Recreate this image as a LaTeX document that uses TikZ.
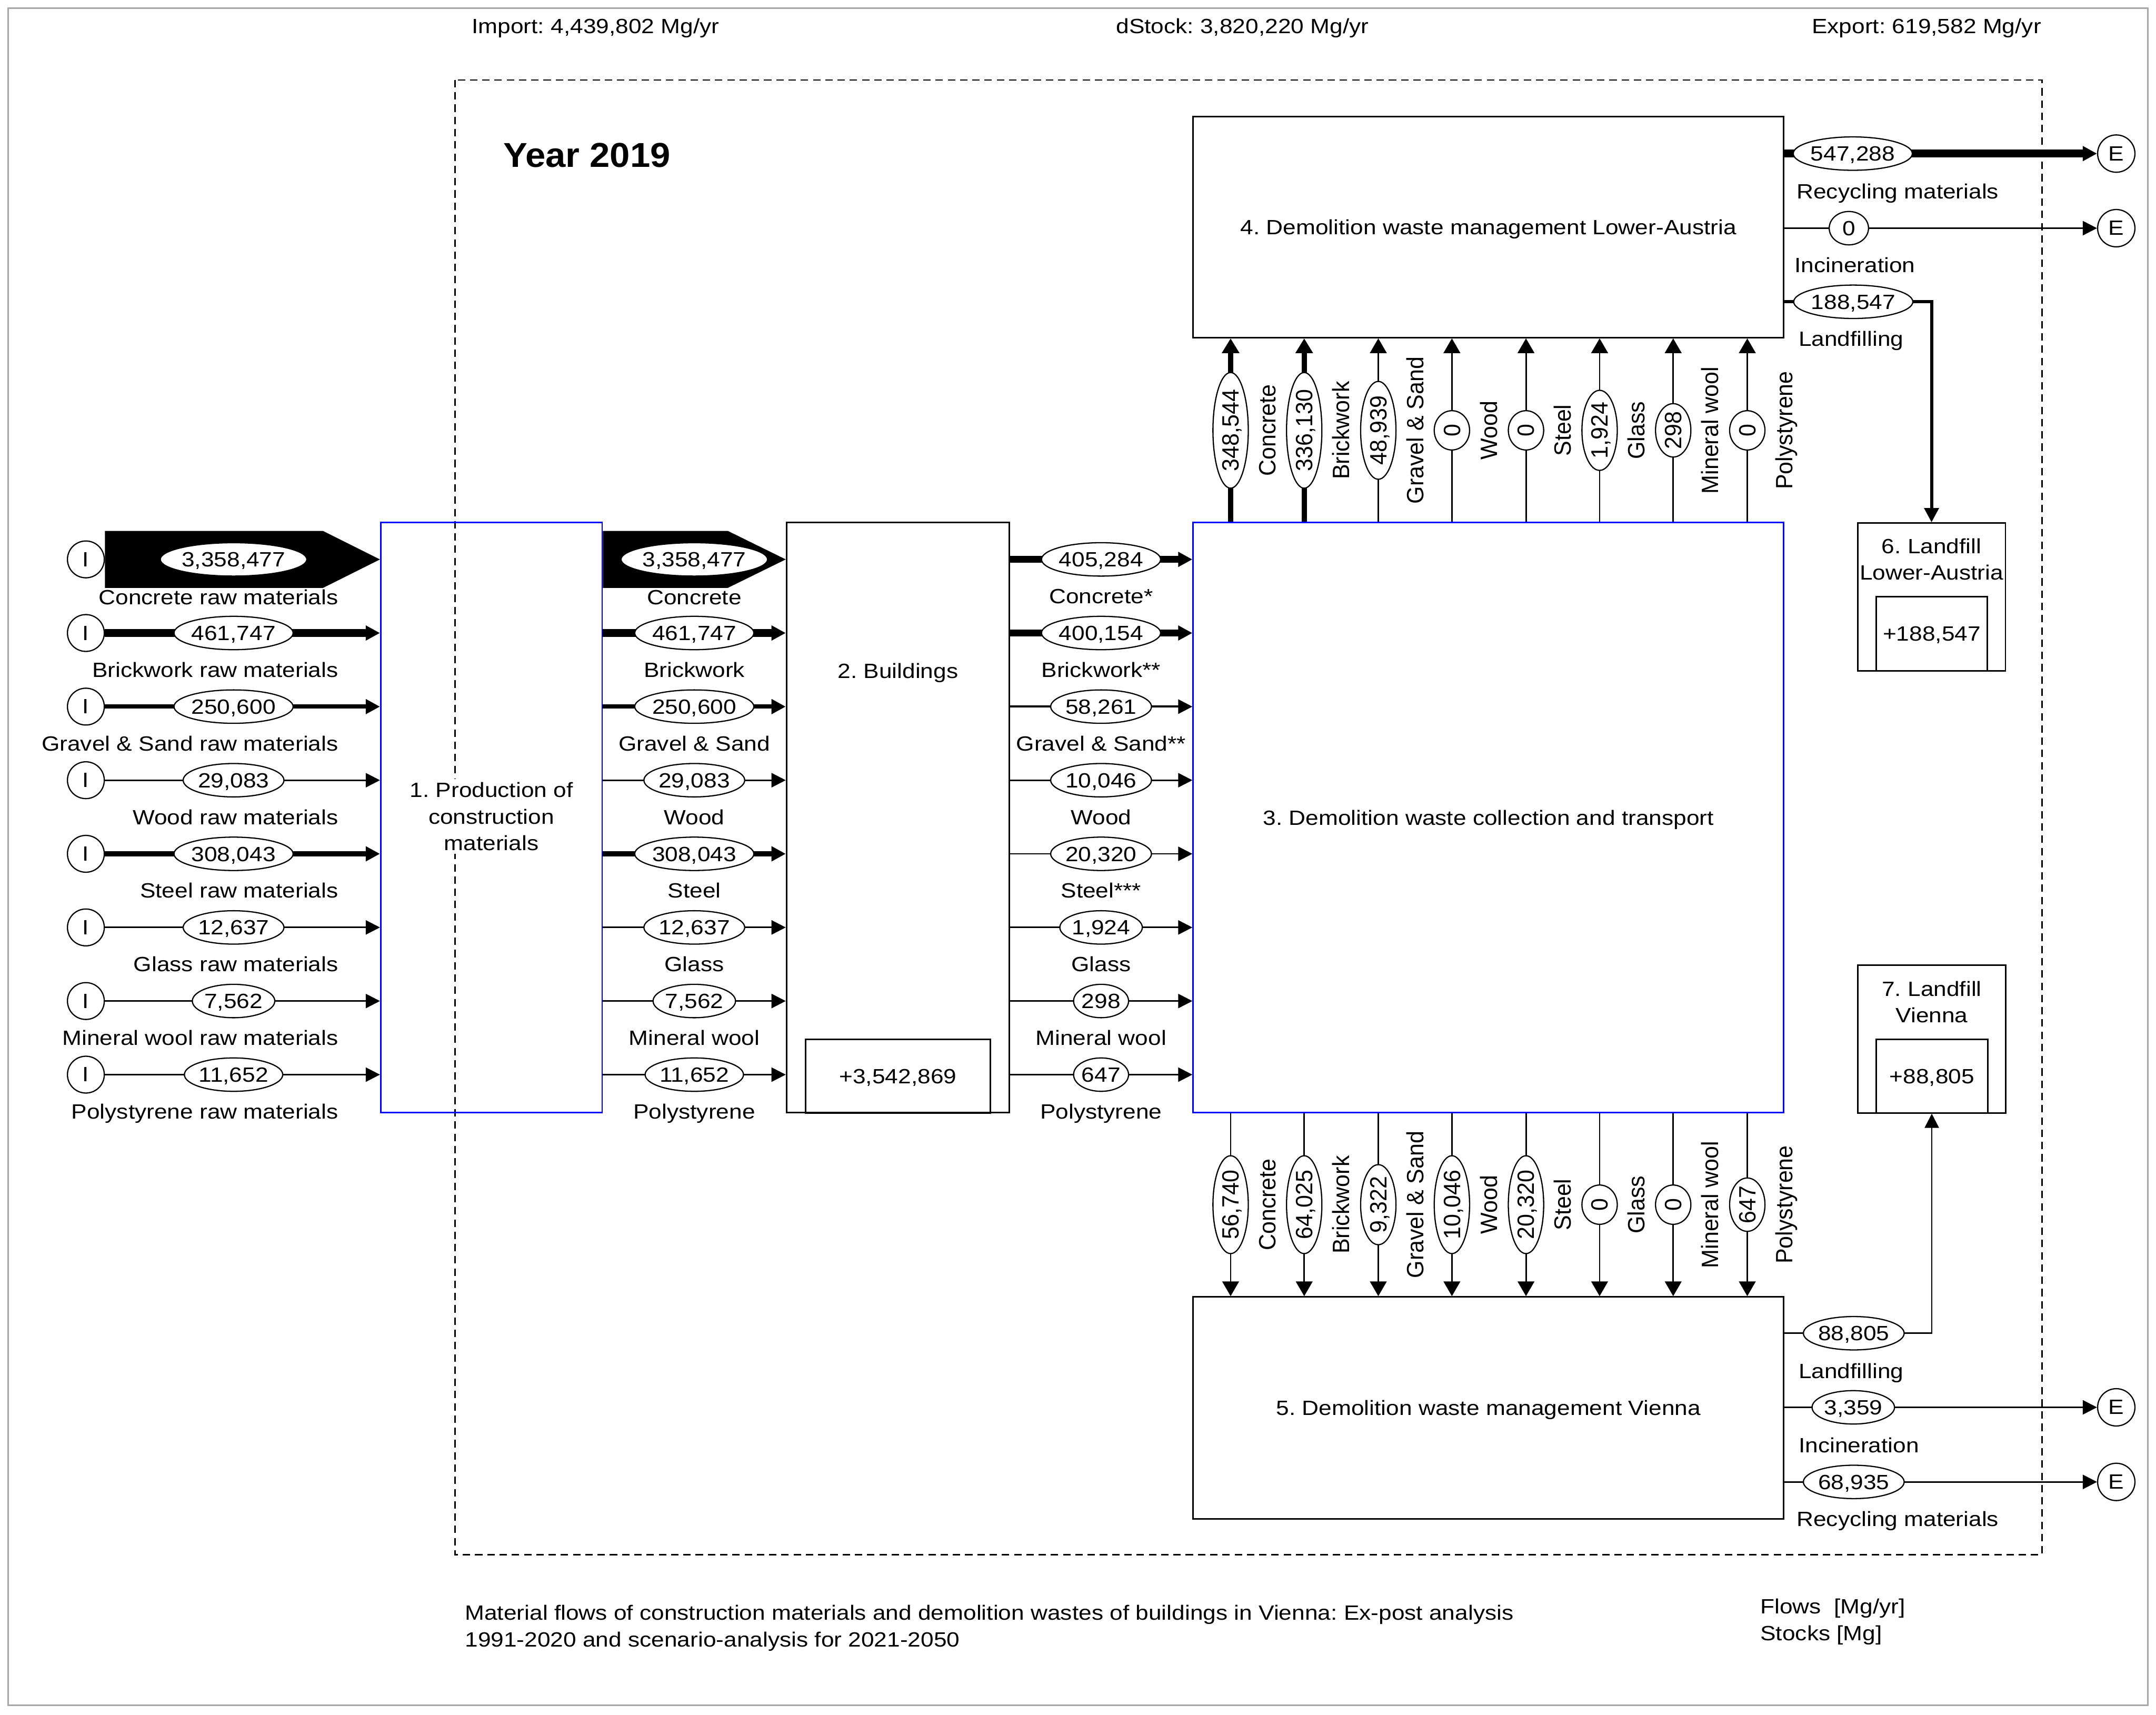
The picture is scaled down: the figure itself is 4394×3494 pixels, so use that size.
\documentclass[tikz,border=0pt]{standalone}
\usepackage{fontspec}
\setmainfont{Liberation Sans}
\newfontfamily\hfamX{Liberation Sans}[FakeStretch=1.13]
\newfontfamily\vfamX{Liberation Sans}[FakeStretch=0.96]
\newfontfamily\yfamX{Liberation Sans}[FakeStretch=1.05]
\usetikzlibrary{shapes.geometric,arrows.meta,calc}
\pgfdeclarelayer{bg}
\pgfsetlayers{bg,main}
\frenchspacing
\newcommand\hfnt{\fontsize{11.95pt}{15.36pt}\hfamX}
\newcommand\vfnt{\fontsize{13.66pt}{15.36pt}\vfamX}
\newcommand\yfnt{\fontsize{20pt}{24pt}\yfamX\bfseries}
\newlength\flwid
\newcommand\hellnode[3]{\settowidth{\flwid}{\hfnt #3}\node[hel, minimum width=\flwid+0.8cm] (#1) at (#2) {#3};}
\newcommand\vellnode[3]{\settowidth{\flwid}{\vfnt #3}\node[vel, minimum width=\flwid+0.8cm] (#1) at (#2) {#3};}
\begin{document}
\frenchspacing
\begin{tikzpicture}[x=0.01cm, y=-0.01cm,
  box/.style={draw, line width=0.85pt, inner sep=0pt, font=\hfnt, text height=0.30cm, text depth=0pt},
  bluebox/.style={box, draw=blue},
  hel/.style={ellipse, draw, line width=0.7pt, fill=white, inner sep=0pt, minimum height=0.68cm, font=\hfnt, text height=0.30cm, text depth=0pt},
  vel/.style={ellipse, draw, line width=0.7pt, fill=white, inner sep=0pt, minimum height=0.72cm, rotate=90, font=\vfnt, text height=0.34cm, text depth=0pt},
  io/.style={circle, draw, line width=0.7pt, fill=white, inner sep=0pt, minimum size=0.75cm, font=\hfnt},
  txt/.style={font=\hfnt, inner sep=0pt, text height=0.30cm, text depth=0pt},
  mtxt/.style={font=\hfnt, inner sep=0pt, align=center},
  vtxt/.style={font=\vfnt, inner sep=0pt, rotate=90, text height=0.34cm, text depth=0pt},
  lw/.style={line width=#1*0.2845pt},
  flow/.style={lw=3, -{Triangle[length=0.29cm,width=0.29cm]}},
  vflow/.style={lw=3, -{Triangle[length=0.30cm,width=0.34cm]}},
  sysb/.style={line width=0.85pt, dash pattern=on 4.3pt off 2.8pt},
]
\useasboundingbox (0,0) rectangle (4394,3494);
\draw[black!35, line width=0.85pt] (17,17) rectangle (4377,3475);
\draw[sysb] (927,163) rectangle (4162,3168);

% header
\node[txt, anchor=west] (imp) at (961,53) {Import: 4,439,802 Mg/yr};
\node[txt, anchor=west] (dst) at (2274,53) {dStock: 3,820,220 Mg/yr};
\node[txt, anchor=west] (exp) at (3692,53) {Export: 619,582 Mg/yr};
\node[anchor=west, font=\yfnt, inner sep=0pt] (year) at (1025,316) {Year 2019};

% processes
\node[bluebox, minimum width=4.51cm, minimum height=12.02cm] (P1) at (1001.5,1666) {};
\node[box, minimum width=4.54cm, minimum height=12.02cm] (B2) at (1830,1666) {};
\node[txt] (B2t) at (1830,1367) {2. Buildings};
\node[box, minimum width=3.76cm, minimum height=1.50cm] (S2) at (1830,2193) {+3,542,869};
\node[bluebox, minimum width=12.03cm, minimum height=12.02cm] (B3) at (3033.5,1666) {3. Demolition waste collection and transport};
\node[box, minimum width=12.03cm, minimum height=4.50cm] (B4) at (3033.5,463) {4. Demolition waste management Lower-Austria};
\node[box, minimum width=12.03cm, minimum height=4.52cm] (B5) at (3033.5,2869) {5. Demolition waste management Vienna};
\node[box, minimum width=3.01cm, minimum height=3.01cm] (B6) at (3936.5,1216.5) {};
\node[mtxt] (B6t) at (3936.5,1140) {6. Landfill\\Lower-Austria};
\node[box, minimum width=2.26cm, minimum height=1.51cm] (S6) at (3937,1291.5) {+188,547};
\node[box, minimum width=3.02cm, minimum height=3.01cm] (B7) at (3937,2117.5) {};
\node[mtxt] (B7t) at (3937,2042) {7. Landfill\\Vienna};
\node[box, minimum width=2.27cm, minimum height=1.50cm] (S7) at (3937.5,2193) {+88,805};

% import circles
\node[io] (I1) at (175,1140) {I};
\node[io] (I2) at (175,1290) {I};
\node[io] (I3) at (175,1440) {I};
\node[io] (I4) at (175,1590) {I};
\node[io] (I5) at (175,1740) {I};
\node[io] (I6) at (175,1890) {I};
\node[io] (I7) at (175,2040) {I};
\node[io] (I8) at (175,2190) {I};

% export circles
\node[io, minimum size=0.76cm] (E1) at (4313,313) {E};
\node[io, minimum size=0.76cm] (E2) at (4313,465) {E};
\node[io, minimum size=0.76cm] (E3) at (4313,2868) {E};
\node[io, minimum size=0.76cm] (E4) at (4313,3020) {E};

% left flow values
\hellnode{A1}{476,1140}{3,358,477}
\hellnode{A2}{476,1290}{461,747}
\hellnode{A3}{476,1440}{250,600}
\hellnode{A4}{476,1590}{29,083}
\hellnode{A5}{476,1740}{308,043}
\hellnode{A6}{476,1890}{12,637}
\hellnode{A7}{476,2040}{7,562}
\hellnode{A8}{476,2190}{11,652}
\node[txt, anchor=east] (LA1) at (690,1217) {Concrete raw materials};
\node[txt, anchor=east] (LA2) at (690,1365) {Brickwork raw materials};
\node[txt, anchor=east] (LA3) at (690,1515) {Gravel \& Sand raw materials};
\node[txt, anchor=east] (LA4) at (690,1665) {Wood raw materials};
\node[txt, anchor=east] (LA5) at (690,1815) {Steel raw materials};
\node[txt, anchor=east] (LA6) at (690,1965) {Glass raw materials};
\node[txt, anchor=east] (LA7) at (690,2115) {Mineral wool raw materials};
\node[txt, anchor=east] (LA8) at (690,2265) {Polystyrene raw materials};

% middle flow values
\hellnode{M1}{1415,1140}{3,358,477}
\hellnode{M2}{1415,1290}{461,747}
\hellnode{M3}{1415,1440}{250,600}
\hellnode{M4}{1415,1590}{29,083}
\hellnode{M5}{1415,1740}{308,043}
\hellnode{M6}{1415,1890}{12,637}
\hellnode{M7}{1415,2040}{7,562}
\hellnode{M8}{1415,2190}{11,652}
\node[txt] (LM1) at (1415,1217) {Concrete};
\node[txt] (LM2) at (1415,1365) {Brickwork};
\node[txt] (LM3) at (1415,1515) {Gravel \& Sand};
\node[txt] (LM4) at (1415,1665) {Wood};
\node[txt] (LM5) at (1415,1815) {Steel};
\node[txt] (LM6) at (1415,1965) {Glass};
\node[txt] (LM7) at (1415,2115) {Mineral wool};
\node[txt] (LM8) at (1415,2265) {Polystyrene};

% right flow values
\hellnode{N1}{2244,1140}{405,284}
\hellnode{N2}{2244,1290}{400,154}
\hellnode{N3}{2244,1440}{58,261}
\hellnode{N4}{2244,1590}{10,046}
\hellnode{N5}{2244,1740}{20,320}
\hellnode{N6}{2244,1890}{1,924}
\hellnode{N7}{2244,2040}{298}
\hellnode{N8}{2244,2190}{647}
\node[txt] (LN1) at (2244,1215) {Concrete*};
\node[txt] (LN2) at (2244,1365) {Brickwork**};
\node[txt] (LN3) at (2244,1515) {Gravel \& Sand**};
\node[txt] (LN4) at (2244,1665) {Wood};
\node[txt] (LN5) at (2244,1815) {Steel***};
\node[txt] (LN6) at (2244,1965) {Glass};
\node[txt] (LN7) at (2244,2115) {Mineral wool};
\node[txt] (LN8) at (2244,2265) {Polystyrene};

% upward flows (3 -> 4)
\vellnode{U1}{2508,877}{348,544}
\vellnode{U2}{2658,877}{336,130}
\vellnode{U3}{2809,877}{48,939}
\vellnode{U4}{2959,877}{0}
\vellnode{U5}{3110,877}{0}
\vellnode{U6}{3260,877}{1,924}
\vellnode{U7}{3410,877}{298}
\vellnode{U8}{3561,877}{0}
\node[vtxt] (LU1) at (2583,877) {Concrete};
\node[vtxt] (LU2) at (2733,877) {Brickwork};
\node[vtxt] (LU3) at (2884,877) {Gravel \& Sand};
\node[vtxt] (LU4) at (3034,877) {Wood};
\node[vtxt] (LU5) at (3185,877) {Steel};
\node[vtxt] (LU6) at (3335,877) {Glass};
\node[vtxt] (LU7) at (3485,877) {Mineral wool};
\node[vtxt] (LU8) at (3636,877) {Polystyrene};

% downward flows (3 -> 5)
\vellnode{D1}{2508,2455}{56,740}
\vellnode{D2}{2658,2455}{64,025}
\vellnode{D3}{2809,2455}{9,322}
\vellnode{D4}{2959,2455}{10,046}
\vellnode{D5}{3110,2455}{20,320}
\vellnode{D6}{3260,2455}{0}
\vellnode{D7}{3410,2455}{0}
\vellnode{D8}{3561,2455}{647}
\node[vtxt] (LD1) at (2583,2455) {Concrete};
\node[vtxt] (LD2) at (2733,2455) {Brickwork};
\node[vtxt] (LD3) at (2884,2455) {Gravel \& Sand};
\node[vtxt] (LD4) at (3034,2455) {Wood};
\node[vtxt] (LD5) at (3185,2455) {Steel};
\node[vtxt] (LD6) at (3335,2455) {Glass};
\node[vtxt] (LD7) at (3485,2455) {Mineral wool};
\node[vtxt] (LD8) at (3636,2455) {Polystyrene};

% outputs of 4
\hellnode{R1}{3776,313}{547,288}
\hellnode{R2}{3768,465}{0}
\hellnode{R3}{3777,615}{188,547}
\node[txt, anchor=west] (LR1) at (3661,390) {Recycling materials};
\node[txt, anchor=west] (LR2) at (3657,540) {Incineration};
\node[txt, anchor=west] (LR3) at (3665,690) {Landfilling};

% outputs of 5
\hellnode{Q1}{3778,2717}{88,805}
\hellnode{Q2}{3777,2868}{3,359}
\hellnode{Q3}{3778,3020}{68,935}
\node[txt, anchor=west] (LQ1) at (3665,2794) {Landfilling};
\node[txt, anchor=west] (LQ2) at (3665,2945) {Incineration};
\node[txt, anchor=west] (LQ3) at (3661,3095) {Recycling materials};

% footer
\node[mtxt, align=left, anchor=west] (cap) at (947,3318) {Material flows of construction materials and demolition wastes of buildings in Vienna: Ex-post analysis\\1991-2020 and scenario-analysis for 2021-2050};
\node[mtxt, align=left, anchor=west] (units) at (3587,3305) {Flows~~[Mg/yr]\\Stocks [Mg]};

\begin{pgfonlayer}{bg}
% big concrete arrows
\fill ($(I1.east)+(0,-58)$) -- ($(I1 -| P1.west)+(-116,-58)$) -- (I1 -| P1.west)
  -- ($(I1 -| P1.west)+(-116,58)$) -- ($(I1.east)+(0,58)$) -- cycle;
\fill ($(I1 -| P1.east)+(0,-58)$) -- ($(I1 -| B2.west)+(-118,-58)$) -- (I1 -| B2.west)
  -- ($(I1 -| B2.west)+(-118,58)$) -- ($(I1 -| P1.east)+(0,58)$) -- cycle;
% imports into 1
\draw[flow, lw=15.4] (I2) -- (I2 -| P1.west);
\draw[flow, lw=8.4] (I3) -- (I3 -| P1.west);
\draw[flow] (I4) -- (I4 -| P1.west);
\draw[flow, lw=10.3] (I5) -- (I5 -| P1.west);
\draw[flow] (I6) -- (I6 -| P1.west);
\draw[flow] (I7) -- (I7 -| P1.west);
\draw[flow] (I8) -- (I8 -| P1.west);
% 1 -> 2
\draw[flow, lw=15.4] (M2 -| P1.east) -- (M2 -| B2.west);
\draw[flow, lw=8.4] (M3 -| P1.east) -- (M3 -| B2.west);
\draw[flow] (M4 -| P1.east) -- (M4 -| B2.west);
\draw[flow, lw=10.3] (M5 -| P1.east) -- (M5 -| B2.west);
\draw[flow] (M6 -| P1.east) -- (M6 -| B2.west);
\draw[flow] (M7 -| P1.east) -- (M7 -| B2.west);
\draw[flow] (M8 -| P1.east) -- (M8 -| B2.west);
% 2 -> 3
\draw[flow, lw=13.5] (N1 -| B2.east) -- (N1 -| B3.west);
\draw[flow, lw=13.3] (N2 -| B2.east) -- (N2 -| B3.west);
\draw[flow, lw=4] (N3 -| B2.east) -- (N3 -| B3.west);
\draw[flow] (N4 -| B2.east) -- (N4 -| B3.west);
\draw[flow] (N5 -| B2.east) -- (N5 -| B3.west);
\draw[flow] (N6 -| B2.east) -- (N6 -| B3.west);
\draw[flow] (N7 -| B2.east) -- (N7 -| B3.west);
\draw[flow] (N8 -| B2.east) -- (N8 -| B3.west);
% 3 -> 4
\draw[vflow, lw=11.6] (U1 |- B3.north) -- (U1 |- B4.south);
\draw[vflow, lw=11.2] (U2 |- B3.north) -- (U2 |- B4.south);
\draw[vflow] (U3 |- B3.north) -- (U3 |- B4.south);
\draw[vflow] (U4 |- B3.north) -- (U4 |- B4.south);
\draw[vflow] (U5 |- B3.north) -- (U5 |- B4.south);
\draw[vflow] (U6 |- B3.north) -- (U6 |- B4.south);
\draw[vflow] (U7 |- B3.north) -- (U7 |- B4.south);
\draw[vflow] (U8 |- B3.north) -- (U8 |- B4.south);
% 3 -> 5
\draw[vflow] (D1 |- B3.south) -- (D1 |- B5.north);
\draw[vflow] (D2 |- B3.south) -- (D2 |- B5.north);
\draw[vflow] (D3 |- B3.south) -- (D3 |- B5.north);
\draw[vflow] (D4 |- B3.south) -- (D4 |- B5.north);
\draw[vflow] (D5 |- B3.south) -- (D5 |- B5.north);
\draw[vflow] (D6 |- B3.south) -- (D6 |- B5.north);
\draw[vflow] (D7 |- B3.south) -- (D7 |- B5.north);
\draw[vflow] (D8 |- B3.south) -- (D8 |- B5.north);
% outputs of 4
\draw[flow, lw=16] (R1 -| B4.east) -- (E1);
\draw[flow] (R2 -| B4.east) -- (E2);
\draw[flow, lw=6.3] (R3 -| B4.east) -- (R3 -| B6.north) -- (B6.north);
% outputs of 5
\draw[flow] (Q1 -| B5.east) -- (Q1 -| B7.south) -- (B7.south);
\draw[flow] (Q2 -| B5.east) -- (E3);
\draw[flow] (Q3 -| B5.east) -- (E4);
\end{pgfonlayer}

% process 1 label, drawn last on an opaque ground
\node[mtxt, fill=white, inner sep=2pt] (P1t) at (1001.5,1664) {1. Production of\\construction\\materials};
\end{tikzpicture}
\end{document}
